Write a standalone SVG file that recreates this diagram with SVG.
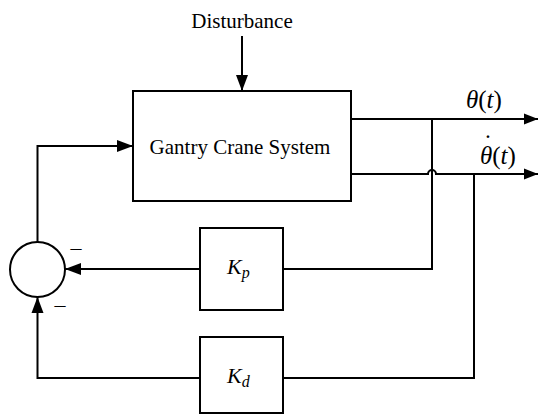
<svg xmlns="http://www.w3.org/2000/svg" width="539" height="414" viewBox="0 0 539 414">
<style>
.ln{fill:none;stroke:#000;stroke-width:2}
.bx{fill:#fff;stroke:#000;stroke-width:2}
.t{font-family:"Liberation Serif","Times New Roman",serif;fill:#000}
.i{font-style:italic}
</style>
<defs>
<marker id="ah" markerUnits="userSpaceOnUse" markerWidth="16" markerHeight="13" refX="16" refY="6.5" orient="auto">
<path d="M0,0.5 L16,6.5 L0,12.5 Z" fill="#000"/>
</marker>
<marker id="ah2" markerUnits="userSpaceOnUse" markerWidth="14" markerHeight="12" refX="14" refY="6" orient="auto">
<path d="M0,0.5 L14,6 L0,11.5 Z" fill="#000"/>
</marker>
</defs>
<rect width="539" height="414" fill="#fff"/>
<g id="connectors">
<path class="ln" d="M242,36 V91" marker-end="url(#ah)"/>
<path class="ln" d="M351,119 H538" marker-end="url(#ah2)"/>
<path class="ln" d="M351,174 H428 A4,4 0 0 1 436,174 H538" marker-end="url(#ah2)"/>
<path class="ln" d="M432,119 V269 H283"/>
<path class="ln" d="M474,174 V378 H283"/>
<path class="ln" d="M200,269 H65" marker-end="url(#ah)"/>
<path class="ln" d="M200,378 H37.5 V297" marker-end="url(#ah)"/>
<path class="ln" d="M37.5,242 V146 H133" marker-end="url(#ah)"/>
</g>
<g id="disturbance">
<text class="t" x="242" y="28" font-size="21" text-anchor="middle">Disturbance</text>
</g>
<g id="plant">
<rect class="bx" x="133" y="91" width="218" height="110"/>
<text class="t" x="240" y="154" font-size="21" text-anchor="middle">Gantry Crane System</text>
</g>
<g id="out-theta">
<text class="t" x="466" y="107.5" font-size="25"><tspan class="i">θ</tspan>(<tspan class="i">t</tspan>)</text>
</g>
<g id="out-thetadot">
<text class="t" x="480" y="164" font-size="25"><tspan class="i">θ</tspan>(<tspan class="i">t</tspan>)<tspan x="488" y="152" text-anchor="middle">˙</tspan></text>
</g>
<g id="sum">
<circle class="ln" cx="37.5" cy="269.5" r="27.5"/>
<text class="t" x="76" y="255" font-size="22" text-anchor="middle">–</text>
<text class="t" x="60" y="312" font-size="22" text-anchor="middle">–</text>
</g>
<g id="kp">
<rect class="bx" x="200" y="228" width="83" height="82"/>
<text class="t i" x="227" y="274" font-size="22">K<tspan font-size="16" dy="4">p</tspan></text>
</g>
<g id="kd">
<rect class="bx" x="200" y="337" width="83" height="76"/>
<text class="t i" x="227" y="383" font-size="22">K<tspan font-size="16" dy="4">d</tspan></text>
</g>
</svg>
